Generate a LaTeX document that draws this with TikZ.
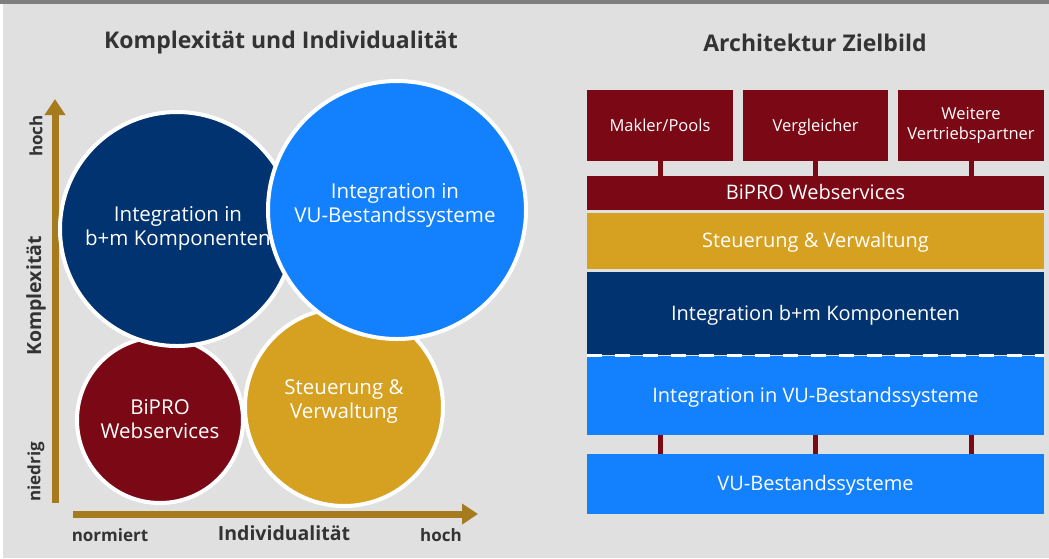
\documentclass[tikz,border=0pt]{standalone}
\usepackage{fontspec}
\setmainfont{Open Sans}
\usetikzlibrary{arrows.meta}
\definecolor{bgc}{HTML}{E0E0E0}
\definecolor{barc}{HTML}{7F7F7F}
\definecolor{navyc}{HTML}{003370}
\definecolor{skyc}{HTML}{1380FE}
\definecolor{winec}{HTML}{7A0815}
\definecolor{goldc}{HTML}{D6A021}
\definecolor{axisc}{HTML}{A67B1E}
\definecolor{inkc}{HTML}{333333}
\tikzset{
  bubble/.style={circle, draw=white, line width=4pt, inner sep=0pt},
  bubbletext/.style={text=white, align=center, inner sep=0pt,
    font=\fontsize{20.5}{24}\selectfont},
  layer/.style={rectangle, minimum width=457pt, inner sep=0pt, text=white, align=center,
    font=\fontsize{20}{24}\selectfont, text height=15pt, text depth=1.5pt},
  topbox/.style={rectangle, fill=winec, minimum height=71pt, inner sep=0pt, text=white, align=center,
    font=\fontsize{16.5}{20}\selectfont},
  toponeline/.style={topbox, text height=12pt, text depth=-2pt},
  stem/.style={winec, line width=5pt},
  axisarrow/.style={axisc, line width=7pt, -{Triangle[width=20pt,length=16pt]}},
  axlabel/.style={text=inkc, font=\bfseries\fontsize{17}{20}\selectfont, inner sep=0pt},
  axtitle/.style={text=inkc, font=\bfseries\fontsize{19.5}{23}\selectfont, inner sep=0pt},
  heading/.style={text=inkc, font=\bfseries\fontsize{23}{27}\selectfont, inner sep=0pt}
}
\begin{document}
\begin{tikzpicture}[x=1pt,y=-1pt]
\useasboundingbox (0,0) rectangle (1049,558);
\fill[white] (0,0) rectangle (1049,558);
\fill[bgc] (3,4) rectangle (1049,558);
\fill[barc] (0,0) rectangle (1049,4);

% headings
\node[heading] (h1) at (281,43) {Komplexität und Individualität};
\node[heading] (h2) at (815,43) {Architektur Zielbild};

% axes
\coordinate (ybot) at (55,503);
\coordinate (ytop) at (55,99);
\coordinate (xleft) at (73,514);
\coordinate (xright) at (478,514);
\draw[axisarrow] (ybot) -- (ytop);
\draw[axisarrow] (xleft) -- (xright);
\node[axlabel, rotate=90] (yhoch) at (36,136) {hoch};
\node[axtitle, rotate=90] (ytit) at (36,296) {Komplexität};
\node[axlabel, rotate=90] (ynied) at (36,472) {niedrig};
\node[axlabel] (xnorm) at (110,535) {normiert};
\node[axtitle] (xtit) at (284,533) {Individualität};
\node[axlabel] (xhoch) at (441,535) {hoch};

% bubbles
\node[bubble, fill=winec, minimum size=166pt] (cbipro) at (160,420) {};
\node[bubbletext] (tbipro) at (160,419) {BiPRO\\Webservices};
\node[bubble, fill=goldc, minimum size=198pt] (csteu) at (344,407) {};
\node[bubbletext] (tsteu) at (344,402) {Steuerung \&\\Verwaltung};
\node[bubble, fill=navyc, minimum size=234pt] (cbm) at (177,229) {};
\node[bubbletext] (tbm) at (178,228) {Integration in\\b+m Komponenten};
\node[bubble, fill=skyc, minimum size=258pt] (cvu) at (397,210) {};
\node[bubbletext] (tvu) at (395,205) {Integration in\\VU-Bestandssysteme};

% architecture
\node[toponeline, minimum width=146pt] (mak) at (660,125.5) {Makler/Pools};
\node[toponeline, minimum width=145pt] (ver) at (815.5,125.5) {Vergleicher};
\node[topbox, minimum width=146pt] (wei) at (971,125.5) {Weitere\\Vertriebspartner};
\node[layer, fill=winec, minimum height=34pt] (bipro) at (815.5,193) {BiPRO Webservices};
\node[layer, fill=goldc, minimum height=56pt] (steu) at (815.5,241) {Steuerung \& Verwaltung};
\node[layer, fill=navyc, minimum height=83pt] (intbm) at (815.5,313.5) {Integration b+m Komponenten};
\node[layer, fill=skyc, minimum height=79pt] (intvu) at (815.5,395.5) {Integration in VU-Bestandssysteme};
\node[layer, fill=skyc, minimum height=60pt] (vu) at (815.5,484) {VU-Bestandssysteme};

\draw[stem] (mak.south) -- (mak.south |- bipro.north);
\draw[stem] (ver.south) -- (ver.south |- bipro.north);
\draw[stem] (wei.south) -- (wei.south |- bipro.north);
\draw[stem] (intvu.south -| mak.south) -- (vu.north -| mak.south);
\draw[stem] (intvu.south -| ver.south) -- (vu.north -| ver.south);
\draw[stem] (intvu.south -| wei.south) -- (vu.north -| wei.south);
\draw[white, line width=3pt, dash pattern=on 15pt off 13pt] (intbm.south west) -- (intbm.south east);
\end{tikzpicture}
\end{document}
